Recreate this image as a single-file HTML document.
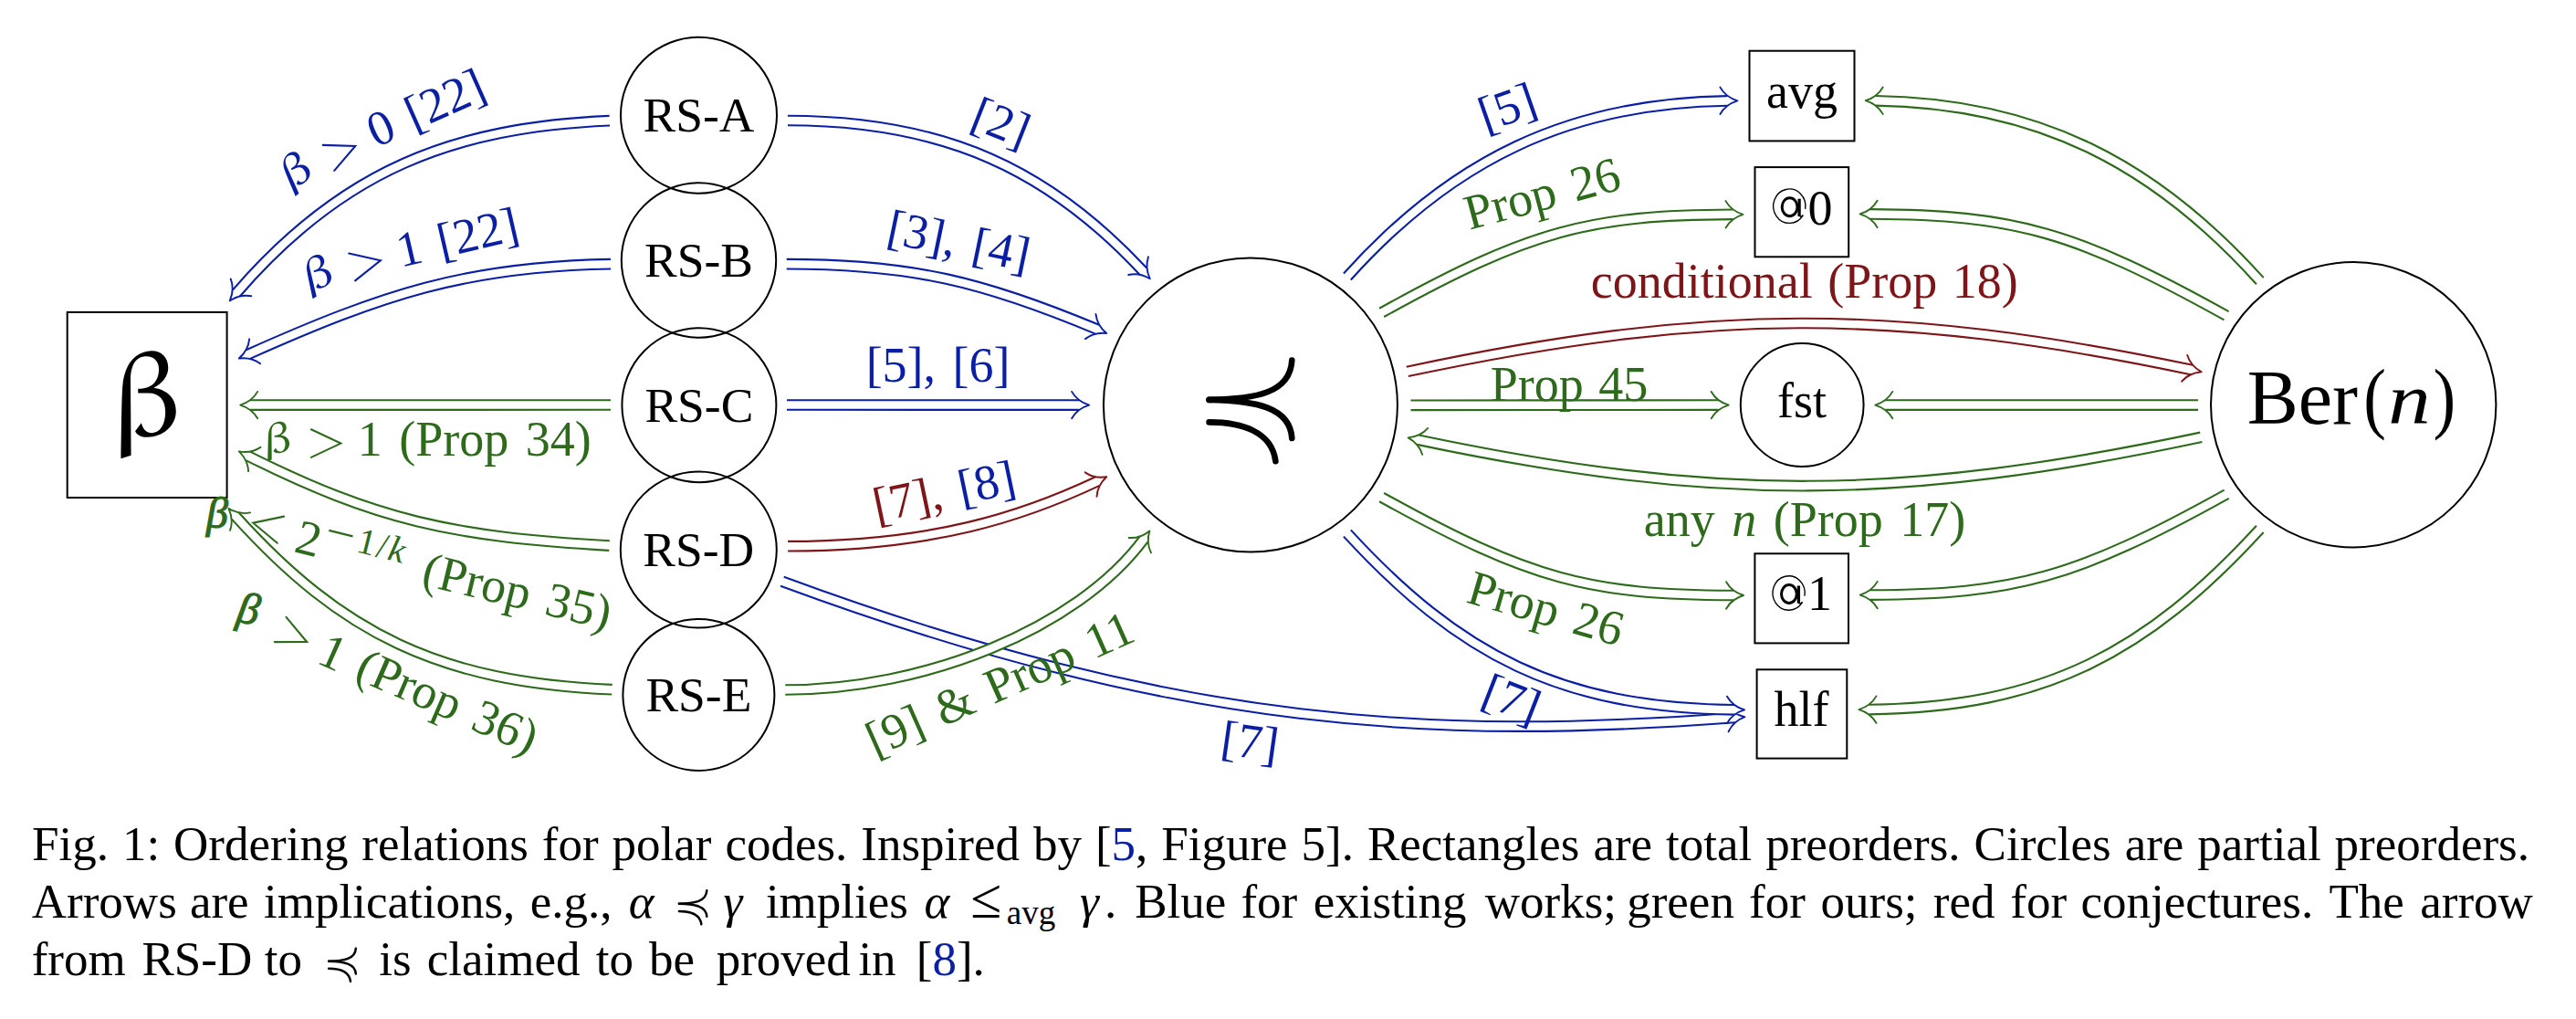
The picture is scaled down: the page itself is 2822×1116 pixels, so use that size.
<!DOCTYPE html>
<html><head><meta charset="utf-8"><style>
html,body{margin:0;padding:0;background:#fff;}
body{width:2822px;height:1116px;overflow:hidden;position:relative;font-family:"Liberation Serif",serif;}
svg{position:absolute;left:0;top:0;}
svg text{font-family:"Liberation Serif",serif;}
.cap{position:absolute;left:35px;top:0;width:2736px;font-size:53px;color:#000;}
.ln{position:absolute;left:0;width:2736px;white-space:nowrap;line-height:1;}
.j{text-align:justify;text-align-last:justify;white-space:normal;}
.b{color:#0b1fa5;}
.w{position:absolute;white-space:nowrap;font-size:53px;line-height:53px;}
sub{font-size:36px;vertical-align:-8px;line-height:0;}
</style></head><body>
<svg width="2822" height="1116" viewBox="0 0 2822 1116" xmlns="http://www.w3.org/2000/svg">
<defs>
<path id="ah" d="M-19,-14.7 C-15.5,-8.5 -8.5,-2.6 0,0 C-8.5,2.6 -15.5,8.5 -19,14.7" fill="none" stroke-width="1.9" stroke-linecap="round" stroke-linejoin="round"/>
</defs>
<rect width="100%" height="100%" fill="#fff"/>
<rect x="73.70" y="341.90" width="174.90" height="203.10" fill="none" stroke="#000" stroke-width="2.00"/>
<path transform="translate(110,370) scale(0.14225)" fill="#000" d="M158,930 C162,700 163,480 170,380 C178,250 230,160 300,125 C340,105 370,100 395,100 C470,100 522,150 522,230 C522,300 470,355 410,385 C510,400 582,460 582,565 C582,680 480,765 360,765 C310,765 280,745 268,718 L315,655 C330,710 360,732 395,732 C465,732 500,660 500,570 C500,480 455,425 370,425 L290,425 L290,392 C390,392 450,340 450,240 C450,180 410,143 355,143 C280,143 232,200 232,330 L236,905 Z"/>
<circle cx="765.50" cy="126.20" r="85.50" fill="none" stroke="#000" stroke-width="2.00"/>
<text transform="translate(765.50,144.00)" font-size="53.50" fill="#000" text-anchor="middle" >RS-A</text>
<circle cx="765.50" cy="285.00" r="84.70" fill="none" stroke="#000" stroke-width="2.00"/>
<text transform="translate(765.50,302.80)" font-size="53.50" fill="#000" text-anchor="middle" >RS-B</text>
<circle cx="765.90" cy="443.70" r="84.50" fill="none" stroke="#000" stroke-width="2.00"/>
<text transform="translate(765.90,461.50)" font-size="53.50" fill="#000" text-anchor="middle" >RS-C</text>
<circle cx="765.30" cy="602.10" r="85.50" fill="none" stroke="#000" stroke-width="2.00"/>
<text transform="translate(765.30,619.90)" font-size="53.50" fill="#000" text-anchor="middle" >RS-D</text>
<circle cx="765.40" cy="760.90" r="83.00" fill="none" stroke="#000" stroke-width="2.00"/>
<text transform="translate(765.40,778.70)" font-size="53.50" fill="#000" text-anchor="middle" >RS-E</text>
<circle cx="1369.90" cy="443.50" r="161.00" fill="none" stroke="#000" stroke-width="2.00"/>
<circle cx="2578.20" cy="443.20" r="156.20" fill="none" stroke="#000" stroke-width="2.00"/>
<circle cx="1974.20" cy="443.50" r="67.40" fill="none" stroke="#000" stroke-width="2.00"/>
<rect x="1916.50" y="55.70" width="115.00" height="98.70" fill="none" stroke="#000" stroke-width="2.00"/>
<rect x="1922.50" y="183.10" width="102.70" height="98.20" fill="none" stroke="#000" stroke-width="2.00"/>
<rect x="1922.40" y="606.30" width="102.60" height="98.10" fill="none" stroke="#000" stroke-width="2.00"/>
<rect x="1924.60" y="733.30" width="98.70" height="97.30" fill="none" stroke="#000" stroke-width="2.00"/>
<text transform="translate(1974.00,117.80)" font-size="54.00" fill="#000" text-anchor="middle" >avg</text>
<path d="M1975.23,235.61 A17.60,18.70 0 1 1 1977.63,228.95" fill="none" stroke="#000" stroke-width="1.35"/>
<ellipse cx="1960.60" cy="226.70" rx="8.4" ry="10.0" fill="none" stroke="#000" stroke-width="3.0"/>
<path d="M1971.10,217.70 L1971.10,236.90" stroke="#000" stroke-width="3.3"/>
<path d="M1971.10,236.20 Q1972.80,238.50 1975.23,235.61" fill="none" stroke="#000" stroke-width="1.4"/>
<text transform="translate(1994.00,245.50)" font-size="54.00" fill="#000" text-anchor="middle" >0</text>
<text transform="translate(1974.00,456.50)" font-size="54.00" fill="#000" text-anchor="middle" >fst</text>
<path d="M1974.53,659.41 A17.60,18.70 0 1 1 1976.93,652.75" fill="none" stroke="#000" stroke-width="1.35"/>
<ellipse cx="1959.90" cy="650.50" rx="8.4" ry="10.0" fill="none" stroke="#000" stroke-width="3.0"/>
<path d="M1970.40,641.50 L1970.40,660.70" stroke="#000" stroke-width="3.3"/>
<path d="M1970.40,660.00 Q1972.10,662.30 1974.53,659.41" fill="none" stroke="#000" stroke-width="1.4"/>
<text transform="translate(1993.60,667.90)" font-size="54.00" fill="#000" text-anchor="middle" >1</text>
<text transform="translate(1973.50,795.00)" font-size="54.00" fill="#000" text-anchor="middle" >hlf</text>
<text transform="translate(2461.70,464.30)" font-size="84.00" fill="#000" text-anchor="start" >Ber</text>
<text transform="translate(2589.25,464.3) scale(0.85,1)" font-size="87" fill="#000">(</text>
<text transform="translate(2616.19,464.3) scale(1.08,0.92)" font-size="86" font-style="italic" fill="#000">n</text>
<text transform="translate(2665.42,464.3) scale(0.85,1)" font-size="87" fill="#000">)</text>
<g fill="none" stroke="#000" stroke-width="6.6" stroke-linecap="round"><path d="M1324.6,437.9 C1376.2,437 1413.3,430.3 1415.3,394.6"/><path d="M1324.6,437.9 C1376.2,438.9 1413.3,446.2 1415.3,480"/><path d="M1324.6,462.4 C1360.3,462.4 1393.4,472.7 1397.4,505.2"/></g>
<path d="M667.80,132.20 C496.56,139.47 375.03,186.21 258.92,321.02" stroke="#0b1fa5" stroke-width="12.70" fill="none"/>
<path d="M667.80,132.20 C496.56,139.47 375.03,186.21 258.92,321.02" stroke="#fff" stroke-width="8.50" fill="none" stroke-linecap="square"/>
<use href="#ah" transform="translate(251.80,329.40) rotate(129.94)" stroke="#0b1fa5"/>
<path d="M669.00,289.20 C508.80,292.00 419.19,322.50 271.85,388.02" stroke="#0b1fa5" stroke-width="12.70" fill="none"/>
<path d="M669.00,289.20 C508.80,292.00 419.19,322.50 271.85,388.02" stroke="#fff" stroke-width="8.50" fill="none" stroke-linecap="square"/>
<use href="#ah" transform="translate(261.80,392.50) rotate(155.90)" stroke="#0b1fa5"/>
<path d="M669.00,443.50 C513.83,443.54 426.22,443.56 274.20,443.60" stroke="#2e6a1b" stroke-width="12.70" fill="none"/>
<path d="M669.00,443.50 C513.83,443.54 426.22,443.56 274.20,443.60" stroke="#fff" stroke-width="8.50" fill="none" stroke-linecap="square"/>
<use href="#ah" transform="translate(263.20,443.60) rotate(179.99)" stroke="#2e6a1b"/>
<path d="M667.60,597.60 C494.73,588.12 411.22,568.99 271.63,499.34" stroke="#2e6a1b" stroke-width="12.70" fill="none"/>
<path d="M667.60,597.60 C494.73,588.12 411.22,568.99 271.63,499.34" stroke="#fff" stroke-width="8.50" fill="none" stroke-linecap="square"/>
<use href="#ah" transform="translate(261.80,494.40) rotate(-153.15)" stroke="#2e6a1b"/>
<path d="M670.50,755.20 C481.42,747.21 374.27,694.01 257.83,565.10" stroke="#2e6a1b" stroke-width="12.70" fill="none"/>
<path d="M670.50,755.20 C481.42,747.21 374.27,694.01 257.83,565.10" stroke="#fff" stroke-width="8.50" fill="none" stroke-linecap="square"/>
<use href="#ah" transform="translate(250.50,556.90) rotate(-131.50)" stroke="#2e6a1b"/>
<path d="M863.00,132.00 C1037.10,132.00 1150.69,187.81 1252.37,297.19" stroke="#0b1fa5" stroke-width="12.70" fill="none"/>
<path d="M863.00,132.00 C1037.10,132.00 1150.69,187.81 1252.37,297.19" stroke="#fff" stroke-width="8.50" fill="none" stroke-linecap="square"/>
<use href="#ah" transform="translate(1259.80,305.30) rotate(47.92)" stroke="#0b1fa5"/>
<path d="M861.70,289.20 C999.62,289.20 1078.23,308.94 1202.06,360.73" stroke="#0b1fa5" stroke-width="12.70" fill="none"/>
<path d="M861.70,289.20 C999.62,289.20 1078.23,308.94 1202.06,360.73" stroke="#fff" stroke-width="8.50" fill="none" stroke-linecap="square"/>
<use href="#ah" transform="translate(1212.20,365.00) rotate(22.96)" stroke="#0b1fa5"/>
<path d="M862.00,443.50 C987.91,443.54 1059.31,443.56 1182.10,443.60" stroke="#0b1fa5" stroke-width="12.70" fill="none"/>
<path d="M862.00,443.50 C987.91,443.54 1059.31,443.56 1182.10,443.60" stroke="#fff" stroke-width="8.50" fill="none" stroke-linecap="square"/>
<use href="#ah" transform="translate(1193.10,443.60) rotate(0.02)" stroke="#0b1fa5"/>
<path d="M863.10,598.20 C1022.08,598.20 1120.74,565.50 1202.28,527.05" stroke="#7e1518" stroke-width="12.70" fill="none"/>
<path d="M863.10,598.20 C1022.08,598.20 1120.74,565.50 1202.28,527.05" stroke="#fff" stroke-width="8.50" fill="none" stroke-linecap="square"/>
<use href="#ah" transform="translate(1212.20,522.30) rotate(-25.86)" stroke="#7e1518"/>
<path d="M856.90,636.80 C1300.03,800.37 1578.15,809.48 1900.43,786.01" stroke="#0b1fa5" stroke-width="12.70" fill="none"/>
<path d="M856.90,636.80 C1300.03,800.37 1578.15,809.48 1900.43,786.01" stroke="#fff" stroke-width="8.50" fill="none" stroke-linecap="square"/>
<use href="#ah" transform="translate(1911.40,785.20) rotate(-4.28)" stroke="#0b1fa5"/>
<path d="M860.30,755.50 C1011.44,755.50 1179.40,689.49 1253.05,590.38" stroke="#2e6a1b" stroke-width="12.70" fill="none"/>
<path d="M860.30,755.50 C1011.44,755.50 1179.40,689.49 1253.05,590.38" stroke="#fff" stroke-width="8.50" fill="none" stroke-linecap="square"/>
<use href="#ah" transform="translate(1259.40,581.40) rotate(-56.10)" stroke="#2e6a1b"/>
<path d="M1475.90,303.00 C1589.95,176.06 1717.41,112.90 1892.40,110.38" stroke="#0b1fa5" stroke-width="12.70" fill="none"/>
<path d="M1475.90,303.00 C1589.95,176.06 1717.41,112.90 1892.40,110.38" stroke="#fff" stroke-width="8.50" fill="none" stroke-linecap="square"/>
<use href="#ah" transform="translate(1903.40,110.30) rotate(0.00)" stroke="#0b1fa5"/>
<path d="M1513.60,342.40 C1677.39,251.61 1741.66,235.50 1898.50,234.82" stroke="#2e6a1b" stroke-width="12.70" fill="none"/>
<path d="M1513.60,342.40 C1677.39,251.61 1741.66,235.50 1898.50,234.82" stroke="#fff" stroke-width="8.50" fill="none" stroke-linecap="square"/>
<use href="#ah" transform="translate(1909.50,234.80) rotate(0.00)" stroke="#2e6a1b"/>
<path d="M1541.80,406.90 C1871.32,336.86 2074.16,336.49 2400.94,405.03" stroke="#7e1518" stroke-width="12.70" fill="none"/>
<path d="M1541.80,406.90 C1871.32,336.86 2074.16,336.49 2400.94,405.03" stroke="#fff" stroke-width="8.50" fill="none" stroke-linecap="square"/>
<use href="#ah" transform="translate(2411.70,407.30) rotate(12.00)" stroke="#7e1518"/>
<path d="M1545.50,443.80 C1678.11,443.72 1753.22,443.68 1882.70,443.61" stroke="#2e6a1b" stroke-width="12.70" fill="none"/>
<path d="M1545.50,443.80 C1678.11,443.72 1753.22,443.68 1882.70,443.61" stroke="#fff" stroke-width="8.50" fill="none" stroke-linecap="square"/>
<use href="#ah" transform="translate(1893.70,443.60) rotate(-0.03)" stroke="#2e6a1b"/>
<path d="M2411.30,478.80 C2082.24,548.74 1879.68,550.09 1553.36,481.67" stroke="#2e6a1b" stroke-width="12.70" fill="none"/>
<path d="M2411.30,478.80 C2082.24,548.74 1879.68,550.09 1553.36,481.67" stroke="#fff" stroke-width="8.50" fill="none" stroke-linecap="square"/>
<use href="#ah" transform="translate(1542.60,479.40) rotate(-168.00)" stroke="#2e6a1b"/>
<path d="M1513.60,544.60 C1677.57,635.49 1741.99,651.31 1899.00,651.98" stroke="#2e6a1b" stroke-width="12.70" fill="none"/>
<path d="M1513.60,544.60 C1677.57,635.49 1741.99,651.31 1899.00,651.98" stroke="#fff" stroke-width="8.50" fill="none" stroke-linecap="square"/>
<use href="#ah" transform="translate(1910.00,652.00) rotate(0.00)" stroke="#2e6a1b"/>
<path d="M1475.90,584.00 C1598.29,717.10 1709.18,775.21 1900.00,777.34" stroke="#0b1fa5" stroke-width="12.70" fill="none"/>
<path d="M1475.90,584.00 C1598.29,717.10 1709.18,775.21 1900.00,777.34" stroke="#fff" stroke-width="8.50" fill="none" stroke-linecap="square"/>
<use href="#ah" transform="translate(1911.00,777.40) rotate(0.00)" stroke="#0b1fa5"/>
<path d="M2475.80,307.70 C2360.08,179.18 2232.03,112.90 2054.70,110.28" stroke="#2e6a1b" stroke-width="12.70" fill="none"/>
<path d="M2475.80,307.70 C2360.08,179.18 2232.03,112.90 2054.70,110.28" stroke="#fff" stroke-width="8.50" fill="none" stroke-linecap="square"/>
<use href="#ah" transform="translate(2043.70,110.20) rotate(-180.00)" stroke="#2e6a1b"/>
<path d="M2439.00,345.70 C2272.64,253.49 2207.94,235.19 2048.60,234.43" stroke="#2e6a1b" stroke-width="12.70" fill="none"/>
<path d="M2439.00,345.70 C2272.64,253.49 2207.94,235.19 2048.60,234.43" stroke="#fff" stroke-width="8.50" fill="none" stroke-linecap="square"/>
<use href="#ah" transform="translate(2037.60,234.40) rotate(-180.00)" stroke="#2e6a1b"/>
<path d="M2408.00,443.60 C2273.24,443.60 2196.93,443.60 2065.30,443.60" stroke="#2e6a1b" stroke-width="12.70" fill="none"/>
<path d="M2408.00,443.60 C2273.24,443.60 2196.93,443.60 2065.30,443.60" stroke="#fff" stroke-width="8.50" fill="none" stroke-linecap="square"/>
<use href="#ah" transform="translate(2054.30,443.60) rotate(180.00)" stroke="#2e6a1b"/>
<path d="M2439.20,541.20 C2272.90,633.38 2207.99,650.85 2048.70,651.58" stroke="#2e6a1b" stroke-width="12.70" fill="none"/>
<path d="M2439.20,541.20 C2272.90,633.38 2207.99,650.85 2048.70,651.58" stroke="#fff" stroke-width="8.50" fill="none" stroke-linecap="square"/>
<use href="#ah" transform="translate(2037.70,651.60) rotate(180.00)" stroke="#2e6a1b"/>
<path d="M2475.80,579.40 C2351.94,714.09 2240.61,774.84 2047.50,777.04" stroke="#2e6a1b" stroke-width="12.70" fill="none"/>
<path d="M2475.80,579.40 C2351.94,714.09 2240.61,774.84 2047.50,777.04" stroke="#fff" stroke-width="8.50" fill="none" stroke-linecap="square"/>
<use href="#ah" transform="translate(2036.50,777.10) rotate(180.00)" stroke="#2e6a1b"/>
<path transform="translate(325.98,188.74) rotate(-24.00) scale(0.05986,0.05542) translate(-370,-515)" fill="#0b1fa5" d="M158,930 C162,700 163,480 170,380 C178,250 230,160 300,125 C340,105 370,100 395,100 C470,100 522,150 522,230 C522,300 470,355 410,385 C510,400 582,460 582,565 C582,680 480,765 360,765 C310,765 280,745 268,718 L315,655 C330,710 360,732 395,732 C465,732 500,660 500,570 C500,480 455,425 370,425 L290,425 L290,392 C390,392 450,340 450,240 C450,180 410,143 355,143 C280,143 232,200 232,330 L236,905 Z"/>
<path transform="translate(374.61,166.39) rotate(-24.00)" d="M-16.00,-15.30 L16.00,0 L-16.00,15.30" fill="none" stroke="#0b1fa5" stroke-width="2.10" stroke-linecap="round" stroke-linejoin="miter"/>
<text transform="translate(473.91,134.57) rotate(-24.00)" font-size="54.00" fill="#0b1fa5" text-anchor="middle"  word-spacing="5.0">0 [22]</text>
<path transform="translate(349.74,301.95) rotate(-13.00) scale(0.05986,0.05542) translate(-370,-515)" fill="#0b1fa5" d="M158,930 C162,700 163,480 170,380 C178,250 230,160 300,125 C340,105 370,100 395,100 C470,100 522,150 522,230 C522,300 470,355 410,385 C510,400 582,460 582,565 C582,680 480,765 360,765 C310,765 280,745 268,718 L315,655 C330,710 360,732 395,732 C465,732 500,660 500,570 C500,480 455,425 370,425 L290,425 L290,392 C390,392 450,340 450,240 C450,180 410,143 355,143 C280,143 232,200 232,330 L236,905 Z"/>
<path transform="translate(401.22,288.80) rotate(-13.00)" d="M-16.00,-15.30 L16.00,0 L-16.00,15.30" fill="none" stroke="#0b1fa5" stroke-width="2.10" stroke-linecap="round" stroke-linejoin="miter"/>
<text transform="translate(505.11,277.48) rotate(-13.00)" font-size="54.00" fill="#0b1fa5" text-anchor="middle"  word-spacing="5.0">1 [22]</text>
<path transform="translate(305.20,483.30) rotate(0.00) scale(0.05595,0.05181) translate(-370,-515)" fill="#2e6a1b" d="M158,930 C162,700 163,480 170,380 C178,250 230,160 300,125 C340,105 370,100 395,100 C470,100 522,150 522,230 C522,300 470,355 410,385 C510,400 582,460 582,565 C582,680 480,765 360,765 C310,765 280,745 268,718 L315,655 C330,710 360,732 395,732 C465,732 500,660 500,570 C500,480 455,425 370,425 L290,425 L290,392 C390,392 450,340 450,240 C450,180 410,143 355,143 C280,143 232,200 232,330 L236,905 Z"/>
<path transform="translate(357.10,485.60) rotate(0.00)" d="M-16.20,-15.30 L16.20,0 L-16.20,15.30" fill="none" stroke="#2e6a1b" stroke-width="2.10" stroke-linecap="round" stroke-linejoin="miter"/>
<text transform="translate(519.80,498.70)" font-size="54.00" fill="#2e6a1b" text-anchor="middle"  word-spacing="5.0">1 (Prop 34)</text>
<text transform="translate(238.00,578.30)" font-size="48.00" fill="#2e6a1b" text-anchor="middle" font-style="italic" stroke="#2e6a1b" stroke-width="1.1" word-spacing="5.0">β</text>
<path transform="translate(292.39,576.45) rotate(14.00)" d="M15.50,-15.00 L-15.50,0 L15.50,15.00" fill="none" stroke="#2e6a1b" stroke-width="2.10" stroke-linecap="round" stroke-linejoin="miter"/>
<text transform="translate(333.89,607.27) rotate(14.00)" font-size="54.00" fill="#2e6a1b" text-anchor="middle"  word-spacing="5.0">2</text>
<path transform="translate(373.4,584.2) rotate(14)" d="M-13.5,0 L13.5,0" stroke="#2e6a1b" stroke-width="2.3" stroke-linecap="butt"/>
<text transform="translate(415.71,610.70) rotate(14.00)" font-size="40.00" fill="#2e6a1b" text-anchor="middle" letter-spacing="2">1/<tspan font-style="italic">k</tspan></text>
<text transform="translate(562.64,664.74) rotate(13.60)" font-size="54.00" fill="#2e6a1b" text-anchor="middle"  word-spacing="5.0">(Prop 35)</text>
<text transform="translate(269.84,682.53) rotate(10.00)" font-size="48.00" fill="#2e6a1b" text-anchor="middle" font-style="italic" stroke="#2e6a1b" stroke-width="1.1" word-spacing="5.0">β</text>
<path transform="translate(321.67,696.26) rotate(25.00)" d="M-16.00,-15.00 L16.00,0 L-16.00,15.00" fill="none" stroke="#2e6a1b" stroke-width="2.10" stroke-linecap="round" stroke-linejoin="miter"/>
<text transform="translate(357.46,730.86) rotate(24.00)" font-size="54.00" fill="#2e6a1b" text-anchor="middle"  word-spacing="5.0">1</text>
<text transform="translate(483.22,784.42) rotate(23.50)" font-size="54.00" fill="#2e6a1b" text-anchor="middle"  word-spacing="5.0">(Prop 36)</text>
<text transform="translate(1090.07,150.85) rotate(21.50)" font-size="54.00" fill="#0b1fa5" text-anchor="middle"  word-spacing="5.0">[2]</text>
<text transform="translate(1046.84,281.39) rotate(11.70)" font-size="54.00" fill="#0b1fa5" text-anchor="middle"  word-spacing="5.0">[3], [4]</text>
<text transform="translate(1027.60,417.50)" font-size="54.00" fill="#0b1fa5" text-anchor="middle"  word-spacing="5.0">[5], [6]</text>
<text transform="translate(1037.79,555.78) rotate(-11.80)" font-size="54.00" fill="#0b1fa5" text-anchor="middle"  word-spacing="5.0"><tspan fill="#7e1518">[7],</tspan> [8]</text>
<text transform="translate(1102.41,765.07) rotate(-24.00)" font-size="54.00" fill="#2e6a1b" text-anchor="middle"  word-spacing="5.0">[9] &amp; Prop 11</text>
<text transform="translate(1366.90,829.95) rotate(8.00)" font-size="54.00" fill="#0b1fa5" text-anchor="middle"  word-spacing="5.0">[7]</text>
<text transform="translate(1656.97,134.26) rotate(-19.20)" font-size="54.00" fill="#0b1fa5" text-anchor="middle"  word-spacing="5.0">[5]</text>
<text transform="translate(1693.91,229.29) rotate(-15.00)" font-size="54.00" fill="#2e6a1b" text-anchor="middle"  word-spacing="5.0">Prop 26</text>
<text transform="translate(1976.80,326.20)" font-size="54.00" fill="#7e1518" text-anchor="middle"  word-spacing="3.0">conditional (Prop 18)</text>
<text transform="translate(1718.90,438.60)" font-size="54.00" fill="#2e6a1b" text-anchor="middle"  word-spacing="3.0">Prop 45</text>
<text transform="translate(1977.00,586.60)" font-size="54.00" fill="#2e6a1b" text-anchor="middle"  word-spacing="5.0">any <tspan font-style="italic">n</tspan> (Prop 17)</text>
<text transform="translate(1688.53,683.49) rotate(16.20)" font-size="54.00" fill="#2e6a1b" text-anchor="middle"  word-spacing="5.0">Prop 26</text>
<text transform="translate(1649.51,782.07) rotate(21.30)" font-size="54.00" fill="#0b1fa5" text-anchor="middle"  word-spacing="5.0">[7]</text>
</svg>

<div class="cap">
<div class="ln j" style="top:897.7px">Fig. 1: Ordering relations for polar codes. Inspired by [<span class="b">5</span>, Figure 5]. Rectangles are total preorders. Circles are partial preorders.</div>
</div>
<span class="w " style="left:34.8px;top:960.6px;">Arrows</span>
<span class="w " style="left:207.9px;top:960.6px;">are</span>
<span class="w " style="left:289.1px;top:960.6px;">implications,</span>
<span class="w " style="left:580.8px;top:960.6px;">e.g.,</span>
<span class="w " style="left:688.8px;top:960.6px;font-style:italic;">α</span>
<svg class="pcs" viewBox="1318 388 104 124" width="36.3" height="41.5" style="position:absolute;left:740.6px;top:972.5px"><g fill="none" stroke="#000" stroke-width="7.5" stroke-linecap="round"><path d="M1324.6,437.9 C1376.2,437 1413.3,430.3 1415.3,394.6"/><path d="M1324.6,437.9 C1376.2,438.9 1413.3,446.2 1415.3,480"/><path d="M1324.6,462.4 C1360.3,462.4 1393.4,472.7 1397.4,505.2"/></g></svg>
<span class="w " style="left:792.5px;top:960.6px;font-style:italic;">γ</span>
<span class="w " style="left:838.9px;top:960.6px;">implies</span>
<span class="w " style="left:1012.4px;top:960.6px;font-style:italic;">α</span>
<span class="w" style="left:1063.0px;top:953.1px;font-size:62px;line-height:62px;">≤</span>
<span class="w" style="left:1102.8px;top:980.5px;font-size:37px;line-height:37px;">avg</span>
<span class="w " style="left:1183.0px;top:960.6px;font-style:italic;">γ</span>
<span class="w " style="left:1210.0px;top:960.6px;">.</span>
<span class="w " style="left:1243.2px;top:960.6px;">Blue</span>
<span class="w " style="left:1359.4px;top:960.6px;">for</span>
<span class="w " style="left:1438.7px;top:960.6px;">existing</span>
<span class="w " style="left:1626.8px;top:960.6px;">works;</span>
<span class="w " style="left:1782.2px;top:960.6px;">green</span>
<span class="w " style="left:1916.1px;top:960.6px;">for</span>
<span class="w " style="left:1994.5px;top:960.6px;">ours;</span>
<span class="w " style="left:2117.8px;top:960.6px;">red</span>
<span class="w " style="left:2202.3px;top:960.6px;">for</span>
<span class="w " style="left:2279.6px;top:960.6px;">conjectures.</span>
<span class="w " style="left:2551.4px;top:960.6px;">The</span>
<span class="w " style="left:2651.3px;top:960.6px;">arrow</span>
<span class="w " style="left:34.7px;top:1023.9px;">from</span>
<span class="w " style="left:155.5px;top:1023.9px;">RS-D</span>
<span class="w " style="left:289.8px;top:1023.9px;">to</span>
<svg class="pcs" viewBox="1318 388 104 124" width="34.0" height="41.5" style="position:absolute;left:357.7px;top:1035.8px"><g fill="none" stroke="#000" stroke-width="7.5" stroke-linecap="round"><path d="M1324.6,437.9 C1376.2,437 1413.3,430.3 1415.3,394.6"/><path d="M1324.6,437.9 C1376.2,438.9 1413.3,446.2 1415.3,480"/><path d="M1324.6,462.4 C1360.3,462.4 1393.4,472.7 1397.4,505.2"/></g></svg>
<span class="w " style="left:415.2px;top:1023.9px;">is</span>
<span class="w " style="left:467.7px;top:1023.9px;">claimed</span>
<span class="w " style="left:652.8px;top:1023.9px;">to</span>
<span class="w " style="left:711.0px;top:1023.9px;">be</span>
<span class="w " style="left:784.7px;top:1023.9px;">proved</span>
<span class="w " style="left:940.4px;top:1023.9px;">in</span>
<span class="w " style="left:1003.8px;top:1023.9px;">[<span class="b">8</span>].</span>

</body></html>
